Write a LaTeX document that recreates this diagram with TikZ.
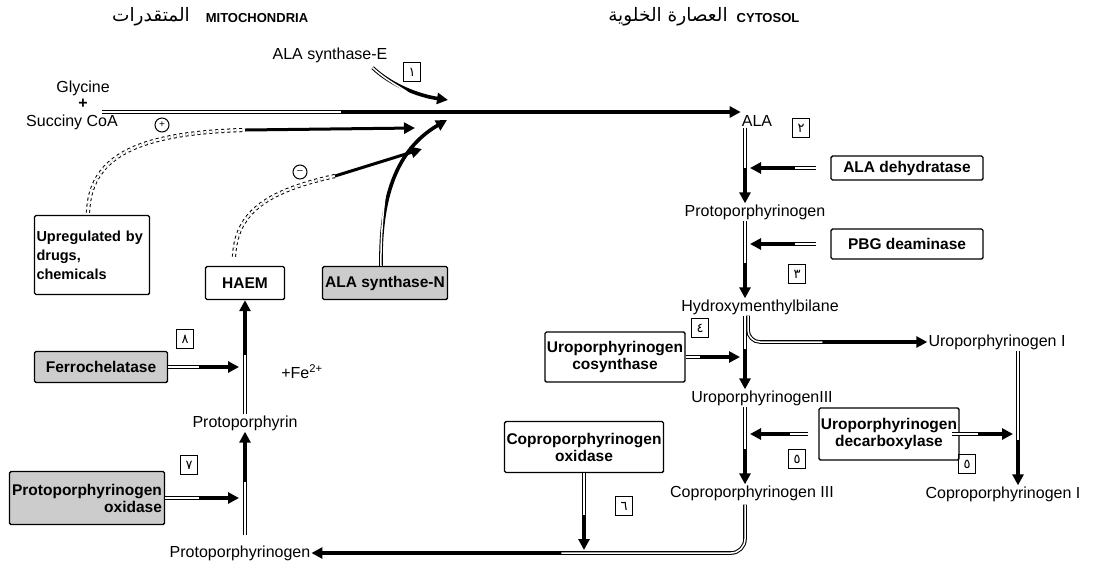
\documentclass[tikz,border=0pt]{standalone}
\usepackage{fontspec}
\setmainfont{Liberation Sans}
\newfontfamily\arabicfont[Script=Arabic]{DejaVu Sans}
\TeXXeTstate=1
\usetikzlibrary{arrows.meta,positioning,calc}

% hollow tail, solid head
\newcommand\hollowflow[3][]{%
  \draw[flow,#1] #2;
  \draw[core,#1,shorten >=#3] #2;}

\begin{document}
\begin{tikzpicture}[x=1pt,y=-1pt,
    flow/.style={line width=3.6pt,-{Triangle[length=11pt,width=11pt]}},
    core/.style={white,line width=1.5pt},
    inhib/.style={dashed,double,double distance=2.2pt,line width=1pt},
    metab/.style={font=\fontsize{16}{17}\selectfont,inner sep=1pt},
    enzyme/.style={draw,line width=1.4pt,rounded corners=1.5pt,
      font=\bfseries\fontsize{15.5}{17}\selectfont,inner sep=2pt,align=center},
    greybox/.style={enzyme,fill=gray!40},
    stepno/.style={draw,line width=1.3pt,minimum width=17pt,minimum height=19pt,
      inner sep=0pt,font=\arabicfont\fontsize{13}{13}\selectfont},
    headtxt/.style={font=\bfseries\fontsize{13}{14}\selectfont},
    headar/.style={font=\arabicfont\fontsize{18.5}{19}\selectfont}]
  \useasboundingbox (0,0) rectangle (1094,574);

  % compartments
  \node[headtxt] (mito) at (257,18) {MITOCHONDRIA};
  \node[headar] (mitoar) at (151,17) {\beginR المتقدرات\endR};
  \node[headtxt] (cyto) at (768,18) {CYTOSOL};
  \node[headar] (cytoar) at (668,17) {\beginR العصارة الخلوية\endR};

  \coordinate (lcol) at (245,0);
  \coordinate (rcol) at (745,0);
  \coordinate (r2col) at (1018,0);

  % mitochondria
  \node[metab] (gly) at (83,88) {Glycine};
  \node[metab,font=\bfseries\fontsize{16}{17}\selectfont] (plus) at (83,104) {+};
  \node[metab] (succ) at (72,122) {Succiny CoA};
  \node[metab] (synE) at (330,55) {ALA synthase-E};
  \node[enzyme,align=left,text width=111pt,minimum height=79pt,
    font=\bfseries\fontsize{14.5}{19}\selectfont] (upreg) at (92,255)
    {Upregulated by\\drugs,\\chemicals};
  \node[enzyme,minimum width=79pt,minimum height=33pt] (haem) at (245,283) {HAEM};
  \node[greybox,minimum width=125pt,minimum height=33pt] (synN) at (385,283) {ALA synthase-N};
  \node[greybox,minimum width=133pt,minimum height=31pt] (ferro) at (101,367) {Ferrochelatase};
  \node[metab] (fe) at (302,372) {+Fe\textsuperscript{2+}};
  \node[metab] (pph) at (245,423) {Protoporphyrin};
  \node[greybox,minimum width=155pt,minimum height=53pt,align=right] (ppo) at (87,498)
    {Protoporphyrinogen\\oxidase};
  \node[metab] (ppgB) at (240,553) {Protoporphyrinogen};
  \node[draw,circle,inner sep=0pt,minimum size=14pt,line width=1pt] (act) at (162,125) {+};
  \node[draw,circle,inner sep=0pt,minimum size=14pt,line width=1pt] (inh) at (300,172) {--};

  % cytosol
  \node[metab] (ala) at (757,121) {ALA};
  \node[enzyme,minimum width=152pt,minimum height=24pt] (aladh) at (907,168) {ALA dehydratase};
  \node[metab] (ppgT) at (755,212) {Protoporphyrinogen};
  \node[enzyme,minimum width=152pt,minimum height=30pt] (pbg) at (907,244) {PBG deaminase};
  \node[metab] (hmb) at (760,307) {Hydroxymenthylbilane};
  \node[metab] (u1) at (997,342) {Uroporphyrinogen I};
  \node[enzyme,minimum height=50pt] (cosyn) at (615,357) {Uroporphyrinogen\\cosynthase};
  \node[metab] (u3) at (762,398) {UroporphyrinogenIII};
  \node[enzyme,minimum height=52pt] (decarb) at (889,434) {Uroporphyrinogen\\decarboxylase};
  \node[enzyme,minimum height=51pt] (cpo) at (584,447) {Coproporphyrinogen\\oxidase};
  \node[metab] (cp3) at (752,493) {Coproporphyrinogen III};
  \node[metab] (cp1) at (1003,494) {Coproporphyrinogen I};

  \foreach \n/\x/\y/\d in {1/412/72/١,2/801/128/٢,3/797/274/٣,4/700/328/٤,
      5/797/459/٥,9/967/464/٥,6/624/506/٦,7/189/465/٧,8/185/339/٨}
    \node[stepno] (s\n) at (\x,\y) {\d};

  % ALA formation
  \coordinate (gstart) at (102,112);
  \hollowflow{(gstart) -- (gstart -| ala.west)}{400pt}
  \coordinate (synEtip) at (448,100);
  \hollowflow{($(synE.south east)+(-16,4)$) .. controls (392,86) and (420,96) .. (synEtip)}{45pt}
  \coordinate (synNtip) at (447,120);
  \hollowflow{($(synN.north)+(-4,0)$) .. controls (380,200) and (395,150) .. (synNtip)}{70pt}

  % regulation
  \coordinate (actM) at (245,130);
  \coordinate (actTip) at (415,128);
  \draw[inhib] ($(upreg.north)+(-4,-2)$) .. controls (90,160) and (130,133) .. (actM);
  \draw[line width=3pt,-{Triangle[length=11pt,width=11pt]}] (actM) -- (actTip);
  \coordinate (inhM) at (335,176);
  \coordinate (inhTip) at (422,149);
  \draw[inhib] ($(haem.north)+(-11,-9)$) .. controls (236,215) and (262,192) .. (inhM);
  \draw[line width=3pt,-{Triangle[length=11pt,width=11pt]}] (inhM) -- (inhTip);

  % haem side
  \hollowflow{(pph.north) -- (haem.south)}{55pt}
  \hollowflow[shorten <=9pt]{(ppgB.north -| lcol) -- (pph.south)}{50pt}
  \hollowflow[shorten >=6pt]{(ferro.east) -- (ferro.east -| lcol)}{46pt}
  \hollowflow[shorten >=6pt]{(ppo.east) -- (ppo.east -| lcol)}{46pt}

  % cytosol steps
  \hollowflow{(ala.south -| rcol) -- (ppgT.north -| rcol)}{35pt}
  \hollowflow[shorten <=14pt,shorten >=5pt]{(aladh.west) -- (aladh.west -| rcol)}{50pt}
  \hollowflow{(ppgT.south -| rcol) -- (hmb.north -| rcol)}{35pt}
  \hollowflow[shorten <=14pt,shorten >=5pt]{(pbg.west) -- (pbg.west -| rcol)}{50pt}
  \hollowflow[rounded corners=12pt]{($(hmb.south -| rcol)+(3,0)$) |- (u1.west)}{105pt}
  \hollowflow{(hmb.south -| rcol) -- (u3.north -| rcol)}{40pt}
  \hollowflow[shorten >=5pt]{(cosyn.east) -- (cosyn.east -| rcol)}{45pt}
  \hollowflow{(u3.south -| rcol) -- (cp3.north -| rcol)}{35pt}
  \hollowflow[shorten <=10pt,shorten >=5pt]{(decarb.west) -- (decarb.west -| rcol)}{45pt}
  \hollowflow[shorten <=-8pt,shorten >=5pt]{(decarb.east) -- (decarb.east -| r2col)}{40pt}
  \hollowflow{(u1.south -| r2col) -- (cp1.north -| r2col)}{45pt}

  % back to mitochondria
  \hollowflow[shorten >=3pt]{(cpo.south) -- (cpo.south |- ppgB)}{38pt}
  \hollowflow[rounded corners=14pt,shorten <=3pt]{(cp3.south -| rcol) |- (ppgB.east)}{250pt}
\end{tikzpicture}
\end{document}
